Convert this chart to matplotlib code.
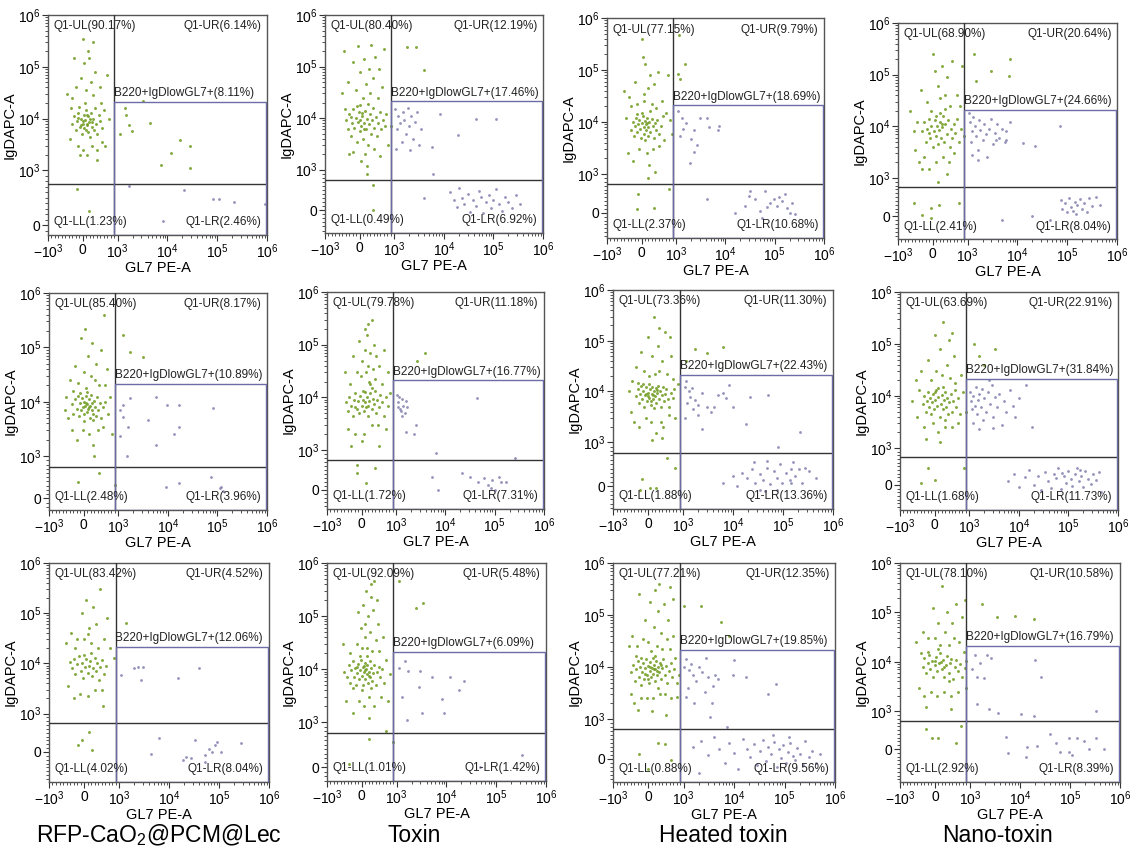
import matplotlib
matplotlib.use("Agg")
import matplotlib.pyplot as plt
import matplotlib.patches as patches
from matplotlib.ticker import FixedLocator, FixedFormatter, NullFormatter
import numpy as np

plt.rcParams['font.family'] = ['Liberation Sans', 'DejaVu Sans']
plt.rcParams['mathtext.fontset'] = 'custom'
plt.rcParams['mathtext.rm'] = 'Liberation Sans'
plt.rcParams['mathtext.it'] = 'Liberation Sans:italic'

TITLES = ['RFP-CaO$\\mathregular{_2}$@PCM@Lec', 'Toxin', 'Heated toxin', 'Nano-toxin']

# quadrant / gate percentages, panels row by row
UL_PCT = ['90.17', '80.40', '77.15', '68.90', '85.40', '79.78', '73.36', '63.69', '83.42', '92.09', '77.21', '78.10']
UR_PCT = ['6.14', '12.19', '9.79', '20.64', '8.17', '11.18', '11.30', '22.91', '4.52', '5.48', '12.35', '10.58']
LL_PCT = ['1.23', '0.49', '2.37', '2.41', '2.48', '1.72', '1.88', '1.68', '4.02', '1.01', '0.88', '2.92']
LR_PCT = ['2.46', '6.92', '10.68', '8.04', '3.96', '7.31', '13.36', '11.73', '8.04', '1.42', '9.56', '8.39']
GATE_PCT = ['8.11', '17.46', '18.69', '24.66', '10.89', '16.77', '22.43', '31.84', '12.06', '6.09', '19.85', '16.79']

# events (GL7 PE-A, IgDAPC-A)
GREEN_1 = [(-320,8e3),(-260,1.1e4),(-210,6e3),(-170,9e3),(-130,1.3e4),(-90,7e3),(-60,1e4),(-30,5e3),(0,8e3),(20,1.2e4),
           (40,6.5e3),(70,9.5e3),(90,1.5e4),(110,7.5e3),(140,5.5e3),(160,1.1e4),(190,8.5e3),(210,4.5e3),(240,1.3e4),(270,7e3),
           (290,1e4),(320,6e3),(350,1.6e4),(390,8e3),(420,5e3),(450,1.2e4),(490,9e3),(540,6.5e3),(-110,1.7e4),(60,2e4),
           (10,9e3),(130,8e3),(-40,7.5e3),(200,1e4),(80,6e3),(-150,1.05e4),(250,8.5e3),(120,1.15e4),
           (-450,3e4),(-380,4e3),(-300,2.5e4),(-200,4e4),(-150,3e3),(-60,6e4),(0,2.5e3),(40,1.2e5),(90,3.5e4),(130,2e3),
           (180,1.5e5),(220,5e4),(260,3e3),(300,2.8e4),(350,8e4),(420,2.5e3),(480,4e4),(520,2e4),(600,1.5e4),(650,3e3),
           (700,7e4),(750,1e4),(-250,1.5e5),(0,3.5e5),(300,3e5),(150,2e5),(-350,1.6e4),(560,3.5e3),(-80,2e3),(400,1.6e3),
           (1.4e3,1.6e4),(1.5e3,1.2e4),(1.7e3,7.4e3),(1.9e3,5.9e3),(4.5e3,8.2e3),(1.8e4,3.9e3),(2.8e4,3e3),(1.2e4,2.2e3),
           (7.4e3,1.3e3),(2.8e4,1.1e3),(3.3e3,2.2e4),(1.1e3,5e3),(-180,670),(180,260)]
GRAY_1 = [(2.2e4,640),(8.3e4,485),(1.1e5,470),(2.2e5,420),(9e5,390),(8e3,70),(1.7e3,710)]

GREEN_2 = [(-400,9e3),(-350,6e3),(-300,1.2e4),(-260,4.5e3),(-220,8e3),(-180,1.5e4),(-150,6.5e3),(-120,1e4),(-90,3.5e3),(-60,8.5e3),
           (-30,1.3e4),(0,5.5e3),(20,9e3),(50,7e3),(80,1.1e4),(100,4e3),(130,8e3),(160,1.4e4),(190,6e3),(210,9.5e3),
           (240,3e3),(270,7.5e3),(300,1.2e4),(330,5e3),(360,9e3),(390,1.6e4),(420,6.5e3),(460,1.05e4),(500,4.5e3),(540,8e3),
           (580,1.3e4),(620,6e3),(680,9e3),(730,7e3),(-200,2.2e3),(150,2e3),(400,2.5e3),(0,1.8e4),(250,1.9e4),(-80,1.7e4),
           (120,6e3),(60,1.25e4),(-240,1.05e4),
           (-500,3e4),(-450,2e5),(-350,5e4),(-300,2e3),(-200,1.2e5),(-120,3.5e4),(-50,2.5e5),(0,8e4),(40,1.5e3),(90,2.5e4),
           (120,1.4e5),(180,4.5e4),(220,1.2e3),(260,9e4),(300,3e4),(340,2.6e5),(380,6e4),(450,1.5e5),(520,2.5e4),(600,1.8e3),
           (650,4e4),(700,2.2e5),(760,1.2e4),(820,3e3),(900,7e3),(-420,1.5e4),(560,9e4),(200,900),
           (390,630),(390,15),(2.7e3,2.4e5),(3.9e3,8.5e4),(1.8e3,2.4e5)]
GRAY_2 = [(1.05e3,1.5e4),(1.2e3,1.1e4),(1.3e3,8e3),(1.15e3,6e3),(1.5e3,1.3e4),(1.6e3,9e3),(1.7e3,5e3),(1.9e3,1.6e4),
          (2e3,7e3),(2.2e3,1.1e4),(2.4e3,4e3),(2.6e3,8.5e3),(2.9e3,1.3e4),(3.2e3,3e3),(3.5e3,6e3),(1.4e3,3.5e3),
          (1.1e3,2.5e3),(2.1e3,2.4e3),(8.3e3,1.2e4),(1.9e4,4.6e3),(4.4e4,9.6e3),(1.1e5,9.6e3),(5.7e3,2.7e3),(6.1e3,900),
          (1.3e4,450),(1.6e4,250),(1.8e4,80),(2e4,550),(2.3e4,300),(2.6e4,150),(3e4,400),(3.3e4,-40),(3.8e4,250),
          (4.5e4,100),(5e4,480),(5.6e4,320),(6.2e4,-60),(7e4,200),(8e4,380),(9e4,50),(1e5,260),(1.1e5,520),(1.3e5,150),
          (1.5e5,-30),(1.7e5,330),(2e5,200),(2.4e5,60),(2.8e5,380),(3.5e5,150),(4e3,300)]

GREEN_3 = [(-300,7e3),(-260,1e4),(-220,5.5e3),(-190,8.5e3),(-160,1.2e4),(-130,6.5e3),(-100,9e3),(-70,1.1e4),(-40,7.5e3),(-10,5e3),
           (10,9.5e3),(40,1.3e4),(60,8e3),(80,6e3),(100,1.05e4),(120,7e3),(140,9e3),(160,1.2e4),(180,5.5e3),(200,8e3),
           (230,1e4),(260,6.5e3),(290,1.15e4),(320,8.5e3),(350,5e3),(380,9.5e3),(420,7e3),(460,1.1e4),(500,6e3),(560,8.5e3),
           (620,1.3e4),(0,1.5e4),(250,1.6e4),(-120,1.4e4),(100,4.5e3),(150,9.5e3),
           (-500,4e4),(-450,1.2e4),(-400,2.5e3),(-350,3e4),(-250,1.8e3),(-180,6e4),(-120,2.2e4),(-60,3e3),(0,4e5),(30,1.8e5),
           (60,2.5e4),(110,1.3e5),(150,2.5e3),(190,4.5e4),(220,1.5e3),(260,8e4),(300,2.2e4),(330,3e3),(370,5.5e4),(420,1.9e4),
           (470,9e4),(520,3.5e3),(580,2.5e4),(640,4.5e3),(700,1.5e4),(760,8e4),(820,1.1e4),(880,6e3),(400,1.1e3),(200,900),
           (-300,2e4),(80,3.5e4),
           (1.15e3,4.7e5),(1.5e3,1.3e5),(1.1e3,8.3e4),(1.2e3,6.6e4),(-100,480),(-130,90),(360,130),(800,610)]
GRAY_3 = [(1.1e3,1.6e4),(1.3e3,1.2e4),(1.6e3,9.5e3),(2e3,4.8e3),(2.3e3,7e3),(2.6e3,3.7e3),(3e3,1.2e4),(4.3e3,1.2e4),
          (4.6e3,8e3),(7.5e3,8.5e3),(7e3,7e3),(1.9e3,1.6e3),(2.3e3,2.7e3),(1.2e3,5.5e3),(1.4e3,7.5e3),
          (4.3e3,350),(1.6e4,0),(2.5e4,170),(3.2e4,565),(4e4,350),(5e4,40),(6.4e4,565),(9.5e4,350),(1.1e5,170),
          (1.4e5,300),(1.6e5,480),(1.8e5,130),(2e5,0),(2.6e5,-40),(8e4,260),(3e4,430),(5.5e4,-130),(7e4,150),
          (1.2e5,420),(2.2e5,250)]

GREEN_4 = [(-300,8e3),(-250,1.2e4),(-200,5e3),(-160,9e3),(-120,1.4e4),(-80,6e3),(-40,1e4),(0,4e3),(30,8e3),(60,1.3e4),
           (90,6.5e3),(120,1e4),(150,4.5e3),(180,8.5e3),(210,1.2e4),(240,6e3),(270,9.5e3),(300,1.6e4),(330,5e3),(360,1.1e4),
           (400,7e3),(440,1.3e4),(480,4e3),(520,9e3),(560,6e3),(600,1.1e4),(650,7.5e3),(700,1.4e4),(760,5e3),(820,9e3),
           (880,6.5e3),(100,1.6e4),(250,1.1e4),(-100,7.5e3),(200,1.8e4),
           (-650,2e4),(-550,8e3),(-500,3.5e3),(-450,1.2e4),(-400,2e3),(-350,5e4),(-250,2.5e3),(-180,3e4),(-100,1.5e3),(0,2.5e5),
           (50,1.2e5),(100,2e3),(150,6e4),(200,3.5e4),(250,1.5e5),(300,2.5e3),(350,4e4),(400,9e4),(450,2e3),(500,2.5e4),
           (550,1.8e5),(600,3e3),(700,4e4),(780,2.5e4),(850,1.5e5),(-300,1.5e3),(400,1.2e3),(150,900),(-50,2e4),(350,2.2e4),
           (1.35e3,2.5e5),(1.45e3,7.5e4),(7.2e3,2e5),(6.7e3,9.3e4),(3e3,1.2e5),
           (-550,350),(-50,220),(190,300),(760,350),(-50,-40),(-300,40)]
GRAY_4 = [(1.05e3,1.8e4),(1.1e3,1.2e4),(1.2e3,8e3),(1.15e3,5e3),(1.3e3,1.5e4),(1.4e3,1e4),(1.5e3,6.5e3),(1.6e3,3.5e3),
          (1.7e3,1.3e4),(1.8e3,8.5e3),(2e3,5.5e3),(2.1e3,1.1e4),(2.3e3,7e3),(2.5e3,2.5e3),(2.7e3,9e3),(3e3,1.4e4),
          (3.2e3,4.5e3),(3.5e3,7.5e3),(3.8e3,1.1e4),(4.2e3,6e3),(4.8e3,9e3),(5.5e3,5e3),(6e3,8e3),(7e3,1.2e4),
          (3.7e3,5.5e3),(6e3,5.3e3),(1.3e4,4.8e3),(2.3e4,4.1e3),(7e4,1e4),(1.2e3,2.8e3),(1.6e3,2.2e3),
          (7.5e4,435),(8e4,200),(9e4,350),(1e5,100),(1.1e5,480),(1.2e5,250),(1.3e5,150),(1.4e5,380),(1.5e5,50),
          (1.6e5,300),(1.8e5,450),(2e5,200),(2.2e5,350),(2.5e5,100),(2.8e5,480),(3.2e5,260),(3.8e5,500),(4.5e5,300),
          (5e3,-90),(2e4,0),(4.5e4,-90)]

GREEN_5 = [(-350,9e3),(-300,6e3),(-250,1.1e4),(-200,7.5e3),(-170,1.3e4),(-140,5.5e3),(-110,9.5e3),(-80,7e3),(-50,1.15e4),(-20,8e3),
           (0,6e3),(20,1e4),(50,8.5e3),(70,1.25e4),(90,6.5e3),(110,9e3),(130,7.5e3),(150,1.1e4),(170,5e3),(190,8.5e3),
           (210,1.35e4),(230,7e3),(250,9.5e3),(270,6e3),(290,1.05e4),(320,8e3),(350,5.5e3),(380,1.2e4),(420,7e3),(460,9.5e3),
           (500,5e3),(550,8e3),(620,1e4),(700,6e3),(-450,5e3),(-500,1.2e4),(100,1.5e4),(0,4.5e3),(260,4.6e3),(-100,1.45e4),
           (160,8e3),(60,9.5e3),
           (-550,7e3),(-400,2.5e4),(-350,3e3),(-250,4.5e4),(-200,2e3),(-150,2.2e4),(-80,1.5e5),(-30,3e3),(0,3.5e4),(40,2.2e5),
           (80,1.8e4),(120,7e4),(160,2.5e3),(200,3e4),(240,1.2e5),(280,1.6e3),(320,2.5e4),(360,5e4),(400,3e3),(450,2e4),
           (500,9e4),(560,3.5e3),(620,2e4),(680,4e4),(750,1.2e4),(820,2.5e3),(600,4e5),(300,1e3),(-300,1.6e4),
           (1.7e3,8.3e4),(1.25e3,1.7e5),(3.2e3,6.7e4),(-170,395),(900,315),(450,600)]
GRAY_5 = [(1.7e3,1.15e4),(1.25e3,8.7e3),(1.25e3,5.3e3),(1.6e3,3.5e3),(3.9e3,4.6e3),(5.8e3,1.2e4),(9.4e3,8.7e3),(1.7e4,8.7e3),
          (1.3e4,2.6e3),(5.8e3,1.6e3),(1.7e4,3.5e3),(8e4,7.8e3),(1.5e3,1e3),(1.1e3,2.3e3),(1.1e3,7e3),
          (9e3,275),(1.7e4,355),(7.5e4,510),(1.1e5,235),(1.3e5,180),(1.2e5,275)]

GREEN_6 = [(-450,8e3),(-400,5.5e3),(-350,1e4),(-300,7e3),(-260,4.5e3),(-220,9e3),(-180,1.2e4),(-140,6e3),(-100,8.5e3),(-60,5e3),
           (-30,1.05e4),(0,7e3),(30,9e3),(60,5.5e3),(90,1.25e4),(110,8e3),(140,6.5e3),(170,1e4),(200,4.5e3),(230,8.5e3),
           (260,1.2e4),(290,6e3),(320,9.5e3),(350,7.5e3),(380,1.3e4),(420,5e3),(460,9e3),(500,6.5e3),(540,1.1e4),(590,8e3),
           (640,4.5e3),(700,1e4),(760,7e3),(180,7e3),(40,1.3e4),(-200,6.5e3),(300,1.5e4),
           (-480,3e4),(-400,2.5e3),(-320,1.8e4),(-250,6e4),(-180,2e3),(-120,3e4),(-60,1.2e5),(-20,2.5e4),(20,5e4),(60,2e3),
           (100,8e4),(130,3e4),(160,1.5e5),(200,4e4),(230,2e4),(260,7e4),(290,3e3),(320,3.5e4),(350,1e5),(380,2.2e4),
           (420,6e4),(470,3e3),(520,4e4),(580,1.8e4),(640,8e4),(700,2.5e3),(760,3e4),(820,1.2e4),(300,3e5),(200,2.5e5),
           (0,1.5e3),(500,1.2e3),(-300,1.2e3),(100,2e5),(250,1.8e4),
           (3.9e3,7e4),(2.7e3,5e4),(-130,430),(120,180),(380,540),(-130,620)]
GRAY_6 = [(1.05e3,1.1e4),(1.1e3,8e3),(1.2e3,6e3),(1.3e3,9.5e3),(1.4e3,7e3),(1.5e3,5e3),(1.15e3,1e4),(1.6e3,8.5e3),
          (1.25e3,5.5e3),(1.7e3,6.5e3),(1.35e3,4.5e3),(1.1e3,6.5e3),(1.6e3,2.2e3),(2.3e3,2e3),(4.3e4,9.7e3),(6.5e3,920),
          (2.5e3,3e3),
          (5.3e3,330),(7e3,0),(2.2e4,430),(3.2e4,330),(4.6e4,210),(7.3e4,125),(9e4,250),(1e5,0),(1.35e5,210),
          (1.7e5,210),(8.5e4,40),(2.6e5,790),(1.2e5,330),(6e4,300)]

GREEN_7 = [(-350,8e3),(-300,1.1e4),(-260,6e3),(-230,9e3),(-200,1.3e4),(-170,7e3),(-140,1e4),(-110,5e3),(-80,8.5e3),(-50,1.2e4),
           (-20,6.5e3),(0,9.5e3),(20,1.4e4),(40,7.5e3),(60,1.1e4),(80,5.5e3),(100,9e3),(120,1.25e4),(140,7e3),(160,1e4),
           (180,4.8e3),(200,8e3),(220,1.15e4),(240,6e3),(260,9.5e3),(280,1.3e4),(300,7e3),(330,1e4),(360,5e3),(390,8.5e3),
           (420,1.2e4),(450,6.5e3),(480,9e3),(520,1.1e4),(560,7e3),(600,5e3),(650,9.5e3),(700,7.5e3),(750,1.1e4),(10,8e3),
           (150,8.5e3),(-60,9e3),(250,1.05e4),(90,6.5e3),(-150,1.4e4),
           (-550,1e4),(-500,4e3),(-450,1.6e4),(-400,2.5e3),(-350,3e4),(-250,2e3),(-200,6e4),(-120,2.5e4),(-60,3e3),(0,1.2e5),
           (40,2e4),(80,2.5e3),(120,5e4),(160,2.9e5),(200,2.2e4),(240,1.5e3),(280,8e4),(320,2.5e4),(360,2.5e3),(400,4e4),
           (440,2e3),(480,1.5e5),(540,2.2e4),(600,3.5e3),(660,5e4),(720,1.8e4),(780,3e3),(850,1.4e4),(100,1.1e3),(400,1.2e3),
           (-300,1.5e4),(300,1.8e5),(620,1.2e5),
           (1.75e3,6.8e4),(3e3,5.8e4),(6.2e3,7.4e4),(1.17e3,4e4),
           (-180,155),(45,-40),(230,-40),(550,650),(780,420),(-230,-80)]
GRAY_7 = [(1.17e3,1.6e4),(1.5e3,1.17e4),(1.4e3,7.9e3),(1.75e3,6.8e3),(2e3,5.4e3),(2.4e3,9.3e3),(3e3,5e3),(3.6e3,4e3),
          (4.9e3,8.6e3),(6.2e3,9.3e3),(7.3e3,7.4e3),(8.5e3,1.36e4),(1e4,5e3),(1.8e4,2.3e3),(2.2e4,7.9e3),(5e4,8.6e3),
          (2.4e3,1.85e3),(2.2e5,1.6e3),(7.9e4,880),(2e3,3.4e3),(4.2e3,5e3),(1.1e3,1.2e4),(1.3e3,1e4),(1.2e3,6e3),
          (1.6e3,4.5e3),(1.1e3,3e3),
          (6.2e3,75),(1e4,230),(1.5e4,310),(1.9e4,190),(2.4e4,385),(2.8e4,75),(3.5e4,270),(4e4,150),(4.8e4,420),
          (5.6e4,40),(6.5e4,345),(7.7e4,190),(8.9e4,500),(9.6e4,75),(1.15e5,310),(1.35e5,150),(1.45e5,385),(1.6e5,540),
          (1.75e5,230),(2.1e5,385),(2.4e5,75),(2.8e5,420),(3.3e5,345),(4.5e5,190),(4.4e4,-115),(3.5e4,-80),(1.2e4,0),
          (4.8e4,580),(1.45e5,75),(7.7e4,-80),(2.6e4,540)]

GREEN_8 = [(-350,7e3),(-300,1e4),(-260,5e3),(-220,8e3),(-190,1.2e4),(-160,6e3),(-130,9e3),(-100,4.5e3),(-70,7.5e3),(-40,1.1e4),
           (-10,5.5e3),(20,8.5e3),(50,1.3e4),(80,6.5e3),(110,9.5e3),(140,4e3),(170,7e3),(200,1.05e4),(230,5.5e3),(260,8.5e3),
           (290,1.2e4),(320,6e3),(350,9e3),(380,4.5e3),(420,7.5e3),(460,1.1e4),(500,5e3),(540,8e3),(580,1.3e4),(620,6e3),
           (680,9e3),(740,4.5e3),(100,1.45e4),(250,1.5e4),(0,1.2e4),(300,3.5e3),
           (-650,8e3),(-550,2e4),(-500,4e3),(-450,1.3e4),(-400,3e4),(-300,2.5e3),(-200,5e4),(-120,2e4),(-60,3e3),(0,1.5e5),
           (50,3e4),(100,2e3),(150,8e4),(200,2.5e4),(250,2.6e5),(300,2.5e3),(350,4e4),(400,1.2e5),(450,2.2e4),(500,2.5e3),
           (550,6e4),(600,1.8e4),(680,3e3),(750,2.5e4),(820,1.2e4),(900,5e3),(-250,1.5e3),(150,1.3e3),(500,1.6e5),
           (3.3e3,8e4),(1.25e3,1e5),(1.6e3,6e4),(2e3,4e4),(-200,455),(-400,45),(0,135),(850,455)]
GRAY_8 = [(1.05e3,1.2e4),(1.1e3,8e3),(1.15e3,5.5e3),(1.2e3,1e4),(1.3e3,6.5e3),(1.35e3,1.5e4),(1.4e3,4.5e3),(1.5e3,8.5e3),
          (1.6e3,1.1e4),(1.7e3,6e3),(1.8e3,1.35e4),(1.9e3,3.5e3),(2e3,9e3),(2.2e3,5e3),(2.4e3,1.2e4),(2.6e3,7e3),
          (2.8e3,1.6e4),(3e3,4e3),(3.3e3,9.5e3),(3.6e3,6e3),(4e3,1.1e4),(4.5e3,2.8e3),(5e3,8e3),(5.5e3,5e3),
          (6.5e3,1.3e4),(7.5e3,6.5e3),(8.5e3,4e3),(1e4,9e3),(1.4e4,1.6e4),(1.85e4,2.5e3),(1.6e3,2.3e3),(2.5e3,2e4),
          (1.2e3,3e3),(3e3,2.4e3),
          (6e3,100),(8e3,300),(1e4,-50),(1.3e4,200),(1.6e4,400),(2e4,0),(2.4e4,250),(2.8e4,-150),(3.3e4,350),(3.8e4,100),
          (4.5e4,-80),(5e4,300),(5.6e4,180),(6.2e4,450),(7e4,-100),(8e4,250),(9e4,50),(1e5,380),(1.1e5,150),(1.2e5,-30),
          (1.35e5,300),(1.5e5,450),(1.6e5,100),(1.8e5,230),(2e5,-60),(2.2e5,380),(2.5e5,160),(2.8e5,20),(3.2e5,300),
          (3.6e5,120),(4.2e5,350),(4.6e5,-200),(1.7e5,400),(7.5e4,330)]

GREEN_9 = [(-350,8e3),(-300,1.2e4),(-250,6e3),(-200,9.5e3),(-150,1.4e4),(-100,7e3),(-60,1e4),(-20,5e3),(20,8.5e3),(60,1.2e4),
           (100,6.5e3),(140,9e3),(180,1.1e4),(220,5.5e3),(260,8e3),(300,1.3e4),(340,7e3),(380,1e4),(420,4.6e3),(460,8.5e3),
           (520,1.15e4),(580,6e3),(640,9e3),(0,1.5e4),(200,1.6e4),(-400,1.05e4),
           (-520,2.5e4),(-450,3.5e3),(-380,4e4),(-300,2e3),(-200,3e4),(-120,2.5e3),(-50,1e5),(0,3e4),(50,1.8e5),(100,2.2e3),
           (150,5e4),(200,2.5e4),(250,1.3e5),(300,3e3),(350,6e4),(400,2e4),(450,3e5),(520,3e3),(580,3e4),(650,8e4),
           (750,2e4),(850,1.3e4),(550,1.4e3),(-250,2e4),(120,3.8e4),
           (1.4e3,6.3e4),(-170,175),(-50,300),(130,520),(220,60)]
GRAY_9 = [(2e3,7.9e3),(2.4e3,8.3e3),(3e3,8.6e3),(2.8e3,4.6e3),(1.5e4,5.2e3),(3.9e4,7.9e3),(1.1e3,5.8e3),
          (6.2e3,375),(4.3e3,-45),(1.9e4,-200),(2.8e4,-155),(3.3e4,320),(5.3e4,-85),(6.2e4,85),(7.3e4,0),(8.5e4,175),
          (9.3e4,260),(5.3e4,-260),(1.1e5,0),(2.8e5,235),(2.2e4,-130)]

GREEN_10 = [(-500,9e3),(-420,7e3),(-380,1.2e4),(-340,5.5e3),(-300,9.5e3),(-260,1.4e4),(-230,7e3),(-200,1.05e4),(-170,5e3),(-140,8.5e3),
            (-110,1.25e4),(-80,6.5e3),(-50,9.5e3),(-20,1.5e4),(0,7.5e3),(20,1.1e4),(40,5e3),(60,9e3),(80,1.3e4),(100,6.5e3),
            (120,1e4),(140,8e3),(160,1.2e4),(180,5.5e3),(200,9e3),(220,1.4e4),(240,7e3),(270,1.05e4),(300,6e3),(330,8.5e3),
            (360,1.2e4),(400,5e3),(440,9e3),(480,1.1e4),(530,7e3),(580,1e4),(630,5.5e3),(-60,1.8e4),(150,1.8e4),(0,4e3),
            (250,4.5e3),(-250,4.5e3),(50,1.15e4),(-150,1.1e4),(200,7.5e3),(100,9.5e3),
            (-550,3e4),(-450,2.5e3),(-350,2e4),(-250,1.5e3),(-150,3e4),(-80,2.5e3),(-30,6e4),(0,2.5e4),(30,1.6e5),(60,2e3),
            (90,4e4),(120,3e5),(150,2.5e4),(180,1e5),(210,3e3),(240,5e4),(270,4e5),(300,2.2e4),(330,1.3e5),(360,2e3),
            (400,3.5e4),(430,2e5),(460,7e4),(500,2.2e4),(560,3e3),(620,4e4),(680,1.5e4),(740,2.5e3),(800,8e3),(200,1.2e3),
            (700,800),(350,4.5e5),(250,2.3e5),(-100,1.2e5),(100,7e4),
            (1.1e3,4.6e5),(2.5e3,1.4e5),(3.4e3,1.8e5),(-360,75),(880,555),(210,630)]
GRAY_10 = [(1.5e3,1.45e4),(1.1e3,1.07e4),(1.7e3,9.3e3),(2.9e3,9.3e3),(2.8e3,4.7e3),(5.2e3,7e3),(1.2e4,7e3),(2.3e4,5.9e3),
           (1.8e4,4e3),(8.2e3,2.8e3),(8.8e3,1.5e3),(3.2e3,1.5e3),(1.6e3,1.1e3),(1.3e3,3e3),(3.3e5,260),(4.7e4,0)]

GREEN_11 = [(-480,8e3),(-420,1.1e4),(-380,5.5e3),(-340,9e3),(-300,1.3e4),(-270,6.5e3),(-240,1e4),(-210,4.5e3),(-180,8e3),(-150,1.2e4),
            (-120,6e3),(-90,9.5e3),(-60,1.4e4),(-30,7e3),(0,1.05e4),(20,5e3),(40,8.5e3),(60,1.25e4),(80,6.5e3),(100,9.5e3),
            (120,1.5e4),(140,7.5e3),(160,1.1e4),(180,5.5e3),(200,9e3),(220,1.3e4),(240,7e3),(260,1e4),(280,4e3),(300,8e3),
            (330,1.2e4),(360,6e3),(390,9.5e3),(420,1.4e4),(460,7e3),(500,1.05e4),(540,5e3),(580,8.5e3),(630,1.2e4),(680,6.5e3),
            (740,9e3),(800,5e3),(150,9e3),(50,1e4),(250,8.5e3),(-100,7.5e3),(350,1.1e4),(0,6e3),(180,1.6e4),(-200,1.5e4),
            (-550,2.5e4),(-500,3e3),(-450,4e4),(-400,2e3),(-320,2.5e4),(-250,2.5e5),(-200,2.5e3),(-150,3.5e4),(-100,8e4),(-50,2.5e3),
            (0,3e4),(40,1.8e5),(80,2e4),(120,2.5e3),(160,6e4),(200,3e5),(240,2.5e4),(280,1.2e5),(320,3e3),(360,4.5e4),
            (400,2.2e4),(440,1.6e5),(480,3e3),(520,3.5e4),(560,8e4),(600,2.2e4),(650,2.5e3),(700,4e4),(760,1.5e4),(820,2.6e3),
            (880,7e3),(100,1.4e3),(500,1.2e3),(-300,1.5e3),(300,4e5),(600,3.5e5),(-350,1.6e4),(700,2e5),
            (1e3,1.5e5),(2.2e3,1.5e5),(5.4e3,7.4e4),(8e3,4e4),(-260,125),(280,390),(460,375),(640,-40),(0,-250)]
GRAY_11 = [(1e3,1e4),(1.27e3,8.6e3),(1.5e3,6.9e3),(1.2e3,4e3),(1.75e3,5.5e3),(2e3,1e4),(2.6e3,3.3e3),(3e3,6.4e3),
           (3.8e3,4.4e3),(4.1e3,6.9e3),(4.9e3,6e3),(3.6e3,2e3),(1.6e3,2e3),(1e4,1.35e4),(9.3e3,6.9e3),(1.7e4,6.4e3),
           (6.8e4,4.8e3),(4.6e4,3e3),(3.3e3,1.08e3),(7.4e3,790),(1.1e3,1.4e4),(1.4e3,1.15e4),(2.3e3,8e3),(1.1e3,2.7e3),
           (2.8e3,1.5e4),
           (1.5e3,300),(2.2e3,450),(3e3,100),(4e3,550),(5e3,250),(6.5e3,-100),(8e3,400),(1e4,150),(1.2e4,-250),(1.5e4,500),
           (1.8e4,250),(2.1e4,50),(2.5e4,380),(2.9e4,-150),(3.3e4,200),(3.8e4,480),(4.3e4,-50),(4.8e4,300),(5.5e4,120),
           (6.2e4,420),(7e4,-200),(7.8e4,250),(8.5e4,30),(9.5e4,350),(1.05e5,-100),(1.15e5,180),(1.3e5,400),(1.45e5,60),
           (1.6e5,-40),(1.8e5,280),(2e5,120),(2.3e5,-150),(2.6e5,450),(3e5,50),(3.5e5,200),(4.2e5,-100),(5e5,120),
           (2e3,-350),(6e4,600),(1.2e5,550)]

GREEN_12 = [(-350,8e3),(-300,1.2e4),(-250,6e3),(-210,9.5e3),(-170,1.4e4),(-130,7e3),(-90,1.05e4),(-50,5e3),(-10,8.5e3),(30,1.25e4),
            (70,6.5e3),(110,9.5e3),(150,1.5e4),(190,7e3),(230,1.1e4),(270,5e3),(310,8.5e3),(350,1.3e4),(390,6e3),(430,9.5e3),
            (470,1.15e4),(510,4.5e3),(560,8e3),(610,1.1e4),(660,6.5e3),(720,9e3),(780,5e3),(850,7.5e3),(900,1.05e4),(100,1.8e4),
            (-200,1.6e4),(250,8e3),(0,1.05e4),(400,4e3),(180,1e4),
            (-550,2.5e4),(-450,3e3),(-400,1.5e4),(-350,4e4),(-300,2e3),(-200,3e4),(-100,2.5e3),(-50,1.2e5),(0,3e4),(50,2e3),
            (100,6e4),(150,2.2e4),(200,3.5e5),(250,2.5e3),(300,4e4),(350,1e5),(400,2.2e4),(450,2e3),(500,6e4),(550,3e4),
            (600,1.5e5),(650,2.5e3),(700,2.5e4),(760,8e4),(820,1.6e4),(900,3e3),(860,1.8e5),(-250,1.2e3),(450,1.1e3),
            (1.7e3,1.45e5),(7.9e3,8.5e4),(1.9e4,7.2e4),(3.5e3,8e4),
            (-270,520),(-90,280),(590,150),(730,610),(90,280)]
GRAY_12 = [(1.25e3,1.35e4),(2.2e3,1.35e4),(2.6e3,1.17e4),(1.6e3,9.3e3),(1.9e3,4.6e3),(1.35e3,1.4e3),(2.4e3,1.1e3),(3.6e3,960),
           (1.05e4,930),(1.9e4,870),(2e4,1.1e4),(2.6e4,5e3),(3.3e5,1.03e3),(1.1e3,7e3),(1.4e3,5e3),
           (5.3e3,330),(5.7e3,-105),(1.3e4,-215),(1.4e4,45),(2.2e4,85),(3.9e4,390),(5.3e4,150),(6.2e4,-85),(9.4e4,-85),
           (1.1e5,-160),(9.7e4,305),(1.4e5,305),(1.9e5,220),(2.4e5,0),(3.3e5,305),(4.8e5,0)]

GREEN = [GREEN_1, GREEN_2, GREEN_3, GREEN_4, GREEN_5, GREEN_6, GREEN_7, GREEN_8, GREEN_9, GREEN_10, GREEN_11, GREEN_12]
GRAY = [GRAY_1, GRAY_2, GRAY_3, GRAY_4, GRAY_5, GRAY_6, GRAY_7, GRAY_8, GRAY_9, GRAY_10, GRAY_11, GRAY_12]

# gates
GATE_X = 900
GATE_Y = 750
RECT_TOP = 2.1e4
RECT_RIGHT = 9.6e5

# each panel was exported with its own display settings
Y_LINSCALE = [0.95, 0.71, 0.67, 0.67, 0.70, 0.68, 0.78, 0.64, 0.69, 0.76, 0.69, 0.69]
Y_BOTTOM = [-180, -560, -650, -590, -275, -480, -520, -680, -780, -310, -580, -870]
# axes boxes in pixels: left, top, right, bottom
BOXES = [(48, 15, 267, 235), (325, 15, 543, 233), (607, 18, 824, 238), (898, 23, 1117, 239),
         (49, 293, 267, 510), (327, 292, 544, 509), (613, 290, 833, 509), (900, 292, 1118, 510),
         (49, 563, 269, 782), (327, 563, 546, 781), (613, 563, 835, 782), (900, 563, 1120, 782)]
TITLE_X = [159, 414, 723, 997]

W, H = 1137, 850
fig = plt.figure(figsize=(W / 100, H / 100), dpi=100)

dec_minor = [m * 10 ** k for k in (3, 4, 5) for m in range(2, 10)]
lin_minor = [v for v in range(-900, 1000, 100) if v != 0]
xmaj = [-1000, 0, 1000, 1e4, 1e5, 1e6]
xlab = [r'$\mathregular{-10^{3}}$', '0', r'$\mathregular{10^{3}}$', r'$\mathregular{10^{4}}$',
        r'$\mathregular{10^{5}}$', r'$\mathregular{10^{6}}$']

for i in range(12):
    l, t, r, b = BOXES[i]
    ax = fig.add_axes([l / W, 1 - b / H, (r - l) / W, (b - t) / H])
    ax.set_xscale('symlog', linthresh=1000, linscale=0.63)
    ax.set_yscale('symlog', linthresh=1000, linscale=Y_LINSCALE[i])
    ax.set_xlim(-1000, 1e6)
    ax.set_ylim(Y_BOTTOM[i], 1e6)

    g = np.array(GREEN[i])
    k = np.array(GRAY[i])
    ax.scatter(g[:, 0], g[:, 1], s=4.5, c='#76a02a', linewidths=0, alpha=0.9, zorder=2)
    ax.scatter(k[:, 0], k[:, 1], s=4, c='#8886b2', linewidths=0, alpha=0.9, zorder=2)

    ax.axvline(GATE_X, color='#333333', lw=1.0, zorder=3)
    ax.axhline(GATE_Y, color='#333333', lw=1.0, zorder=3)
    rect = patches.Rectangle((GATE_X, Y_BOTTOM[i]), RECT_RIGHT - GATE_X, RECT_TOP - Y_BOTTOM[i],
                             fill=False, edgecolor='#6c6ca8', lw=1.0, zorder=3)
    ax.add_patch(rect)

    fs = 8.5
    ax.text(0.025, 0.975, 'Q1-UL(%s%%)' % UL_PCT[i], transform=ax.transAxes, ha='left', va='top', fontsize=fs, color='#222222')
    ax.text(0.975, 0.975, 'Q1-UR(%s%%)' % UR_PCT[i], transform=ax.transAxes, ha='right', va='top', fontsize=fs, color='#222222')
    ax.text(0.025, 0.03, 'Q1-LL(%s%%)' % LL_PCT[i], transform=ax.transAxes, ha='left', va='bottom', fontsize=fs, color='#222222')
    ax.text(0.975, 0.03, 'Q1-LR(%s%%)' % LR_PCT[i], transform=ax.transAxes, ha='right', va='bottom', fontsize=fs, color='#222222')
    ax.annotate('B220+IgDlowGL7+(%s%%)' % GATE_PCT[i], (GATE_X, RECT_TOP), xytext=(0, 2),
                textcoords='offset points', ha='left', va='bottom', fontsize=fs, color='#222222')

    ax.xaxis.set_major_locator(FixedLocator(xmaj))
    ax.xaxis.set_major_formatter(FixedFormatter(xlab))
    ax.xaxis.set_minor_locator(FixedLocator(lin_minor + dec_minor))
    ax.xaxis.set_minor_formatter(NullFormatter())
    ymaj = xmaj[1:]
    ax.yaxis.set_major_locator(FixedLocator(ymaj))
    ax.yaxis.set_major_formatter(FixedFormatter(xlab[1:]))
    ax.yaxis.set_minor_locator(FixedLocator([v for v in lin_minor if v > Y_BOTTOM[i]] + dec_minor))
    ax.yaxis.set_minor_formatter(NullFormatter())

    ax.tick_params(which='major', direction='out', length=4, width=0.8, labelsize=10, pad=1.5, color='#333333')
    ax.tick_params(which='minor', direction='out', length=2, width=0.6, color='#333333')
    for s in ax.spines.values():
        s.set_color('#555555')
        s.set_linewidth(1.0)
    ax.set_xlabel('GL7 PE-A', fontsize=10.5, labelpad=0)
    ax.set_ylabel('IgDAPC-A', fontsize=10.5, labelpad=1)

for j in range(4):
    fig.text(TITLE_X[j] / W, 1 - 835 / H, TITLES[j], ha='center', va='center', fontsize=16.5)

fig.savefig('out.png', dpi=100)
